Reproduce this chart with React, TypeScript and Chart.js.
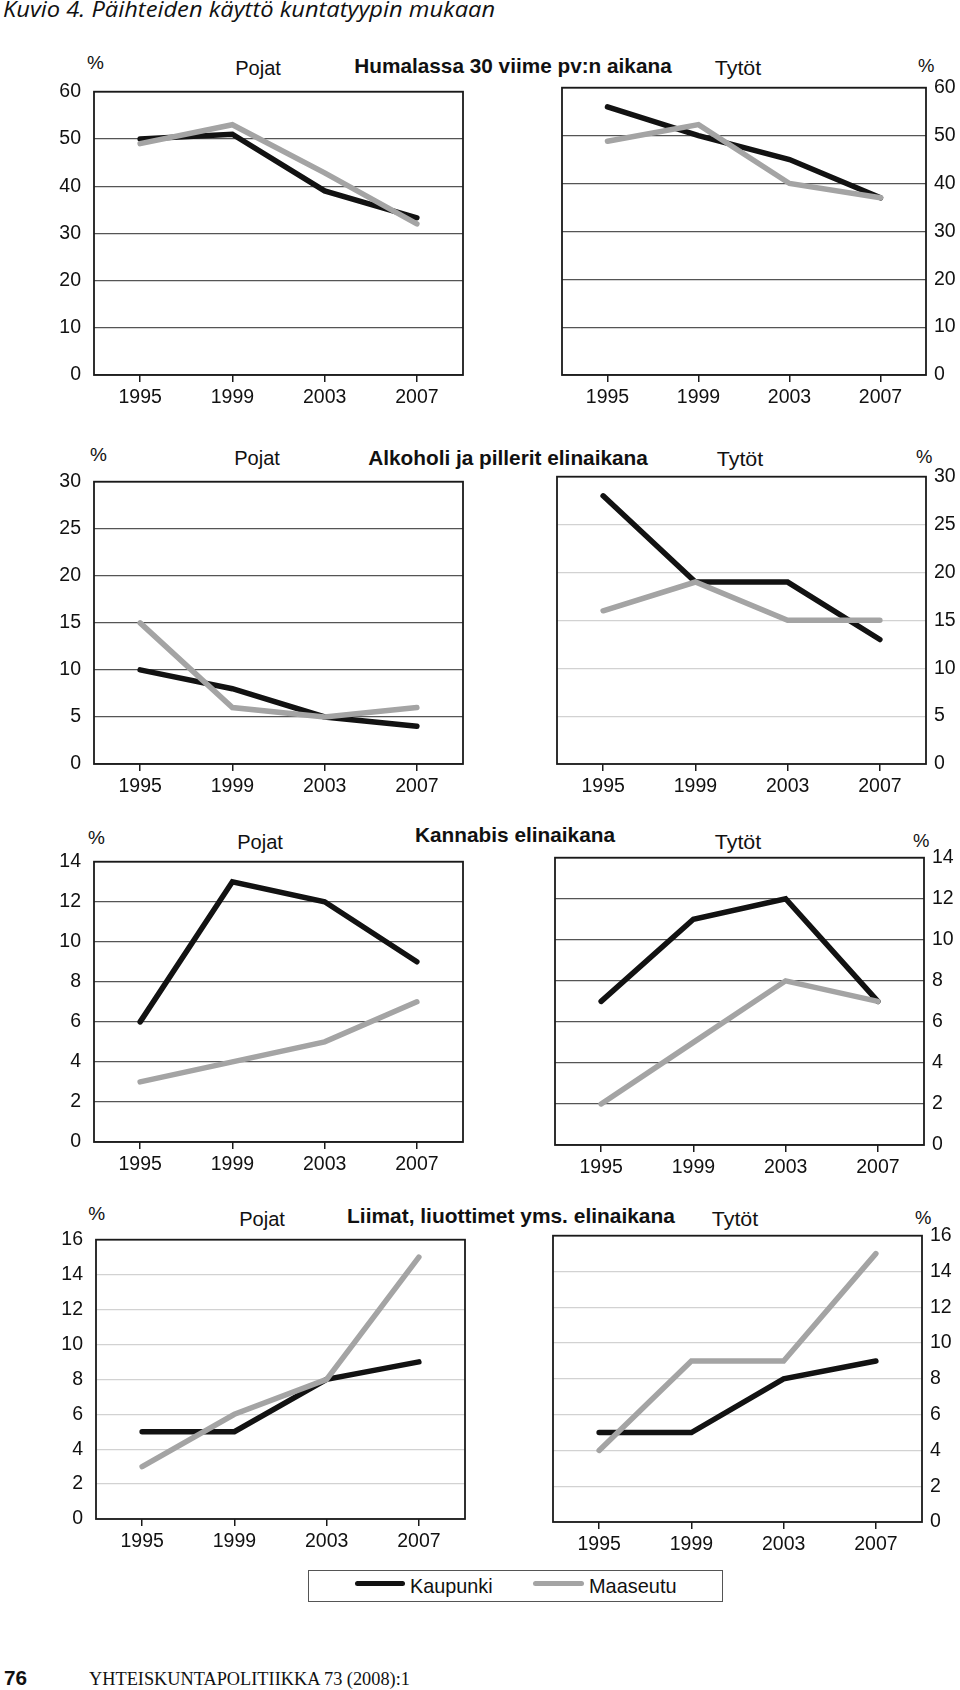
import React, { useEffect, useLayoutEffect, useRef, useState } from 'react';
import { Chart, registerables } from 'chart.js';

Chart.register(...registerables);

// ---------- data ----------
const years = ['1995', '1999', '2003', '2007'];
const seriesNames = ['Kaupunki', 'Maaseutu'];

const humalassaPojatKaupunki = [50, 51, 39, 33.3];
const humalassaPojatMaaseutu = [49, 53, 42.8, 32];
const humalassaTytotKaupunki = [56, 50, 45, 37];
const humalassaTytotMaaseutu = [48.8, 52.3, 40, 37];

const alkoholiPojatKaupunki = [10, 8, 5, 4];
const alkoholiPojatMaaseutu = [15, 6, 5, 6];
const alkoholiTytotKaupunki = [28, 19, 19, 13];
const alkoholiTytotMaaseutu = [16, 19, 15, 15];

const kannabisPojatKaupunki = [6, 13, 12, 9];
const kannabisPojatMaaseutu = [3, 4, 5, 7];
const kannabisTytotKaupunki = [7, 11, 12, 7];
const kannabisTytotMaaseutu = [2, 5, 8, 7];

const liimatPojatKaupunki = [5, 5, 8, 9];
const liimatPojatMaaseutu = [3, 6, 8, 15];
const liimatTytotKaupunki = [5, 5, 8, 9];
const liimatTytotMaaseutu = [4, 9, 9, 15];

const humalassaYTicks = [0, 10, 20, 30, 40, 50, 60];
const alkoholiYTicks = [0, 5, 10, 15, 20, 25, 30];
const kannabisYTicks = [0, 2, 4, 6, 8, 10, 12, 14];
const liimatYTicks = [0, 2, 4, 6, 8, 10, 12, 14, 16];

const pageTitle = 'Kuvio 4. Päihteiden käyttö kuntatyypin mukaan';
const sectionTitles = [
  'Humalassa 30 viime pv:n aikana',
  'Alkoholi ja pillerit elinaikana',
  'Kannabis elinaikana',
  'Liimat, liuottimet yms. elinaikana',
];
const groupNames = ['Pojat', 'Tytöt'];
const unitLabel = '%';
const footerPage = '76';
const footerText = 'YHTEISKUNTAPOLITIIKKA 73 (2008):1';

// ---------- styles / layout ----------
const SANS = '"Liberation Sans", Arial, Helvetica, sans-serif';
const SERIF = '"Liberation Serif", "Times New Roman", serif';
const ITALIC_SANS = '"Open Sans", "Noto Sans", sans-serif';
const BLACK = '#121212';
const GRAY = '#a4a4a4';
const DARK_GRID = '#555555';
const LIGHT_GRID = '#d2d2d2';

const AXW = 70; // forced y axis width
const EDGE = 6; // padding on the side without an axis
const PADT = 16;
const AXH = 45;

type PanelCfg = {
  kaupunki: number[];
  maaseutu: number[];
  yTicks: number[];
  side: 'left' | 'right';
  box: [number, number, number, number]; // left, right, top, bottom of plot area
  grid: string;
};

const panels: PanelCfg[] = [
  { kaupunki: humalassaPojatKaupunki, maaseutu: humalassaPojatMaaseutu, yTicks: humalassaYTicks, side: 'left', box: [94, 463, 83, 375], grid: DARK_GRID },
  { kaupunki: humalassaTytotKaupunki, maaseutu: humalassaTytotMaaseutu, yTicks: humalassaYTicks, side: 'right', box: [562, 926, 84, 375], grid: DARK_GRID },
  { kaupunki: alkoholiPojatKaupunki, maaseutu: alkoholiPojatMaaseutu, yTicks: alkoholiYTicks, side: 'left', box: [94, 463, 473, 764], grid: DARK_GRID },
  { kaupunki: alkoholiTytotKaupunki, maaseutu: alkoholiTytotMaaseutu, yTicks: alkoholiYTicks, side: 'right', box: [557, 926, 473, 764], grid: LIGHT_GRID },
  { kaupunki: kannabisPojatKaupunki, maaseutu: kannabisPojatMaaseutu, yTicks: kannabisYTicks, side: 'left', box: [94, 463, 853, 1142], grid: DARK_GRID },
  { kaupunki: kannabisTytotKaupunki, maaseutu: kannabisTytotMaaseutu, yTicks: kannabisYTicks, side: 'right', box: [555, 924, 854, 1145], grid: DARK_GRID },
  { kaupunki: liimatPojatKaupunki, maaseutu: liimatPojatMaaseutu, yTicks: liimatYTicks, side: 'left', box: [96, 465, 1231, 1519], grid: LIGHT_GRID },
  { kaupunki: liimatTytotKaupunki, maaseutu: liimatTytotMaaseutu, yTicks: liimatYTicks, side: 'right', box: [553, 922, 1232, 1522], grid: LIGHT_GRID },
];

// header rows: [%L x, %L baseline, Pojat cx, Pojat baseline, title cx, title baseline, title width, Tytöt cx, Tytöt baseline, %R x, %R baseline]
const headerRows = [
  [87, 69, 258, 75, 513, 73, 317, 738, 75, 918, 71.7],
  [90, 461, 257, 465.5, 508, 465, 280, 740, 466, 916, 462.7],
  [88, 844, 260, 849.3, 515, 842.7, 200, 738, 849.3, 913, 846.7],
  [88.3, 1220, 262, 1226, 510.5, 1223.3, 327.6, 734.5, 1226, 915, 1224],
];

const framePlugin = {
  id: 'frameBox',
  beforeDatasetsDraw(chart: any) {
    const { ctx, chartArea: a } = chart;
    ctx.save();
    ctx.strokeStyle = '#1a1a1a';
    ctx.lineWidth = 1.8;
    ctx.strokeRect(a.left, a.top, a.right - a.left, a.bottom - a.top);
    ctx.restore();
  },
};

function Panel({ p }: { p: PanelCfg }) {
  const ref = useRef<HTMLCanvasElement>(null);
  const [L, R, T, B] = p.box;
  const left = p.side === 'left' ? L - AXW : L - EDGE;
  const width = R - L + AXW + EDGE;
  const top = T - PADT;
  const height = B - T + PADT + AXH;

  useEffect(() => {
    const yt = p.yTicks;
    const chart = new Chart(ref.current as HTMLCanvasElement, {
      type: 'line',
      data: {
        labels: years,
        datasets: [
          {
            label: seriesNames[0],
            data: p.kaupunki,
            borderColor: BLACK,
            backgroundColor: BLACK,
            borderWidth: 5.5,
            pointRadius: 0,
            tension: 0,
            borderCapStyle: 'round',
            borderJoinStyle: 'miter',
            order: 1,
          },
          {
            label: seriesNames[1],
            data: p.maaseutu,
            borderColor: GRAY,
            backgroundColor: GRAY,
            borderWidth: 5.5,
            pointRadius: 0,
            tension: 0,
            borderCapStyle: 'round',
            borderJoinStyle: 'miter',
            order: 0,
          },
        ],
      },
      options: {
        animation: false,
        responsive: false,
        devicePixelRatio: 1,
        layout: {
          padding: {
            top: PADT,
            left: p.side === 'left' ? 0 : EDGE,
            right: p.side === 'left' ? EDGE : 0,
            bottom: 0,
          },
        },
        plugins: { legend: { display: false }, tooltip: { enabled: false }, title: { display: false } },
        scales: {
          x: {
            type: 'category',
            offset: true,
            border: { display: false },
            grid: {
              offset: false,
              drawOnChartArea: false,
              drawTicks: true,
              tickLength: 7,
              color: '#1a1a1a',
              lineWidth: 1.5,
            },
            ticks: {
              color: '#111',
              padding: 4,
              maxRotation: 0,
              font: { family: SANS, size: 19.5 },
            },
            afterFit: (s: any) => {
              s.height = AXH;
            },
          },
          y: {
            position: p.side,
            min: yt[0],
            max: yt[yt.length - 1],
            border: { display: false },
            grid: { color: p.grid, lineWidth: 1.2, drawTicks: false },
            ticks: {
              stepSize: yt[1] - yt[0],
              color: '#111',
              padding: p.side === 'left' ? 13 : 8,
              font: { family: SANS, size: 19.5 },
            },
            afterFit: (s: any) => {
              s.width = AXW;
            },
          },
        },
      } as any,
      plugins: [framePlugin],
    });
    return () => chart.destroy();
  }, []);

  return (
    <canvas
      ref={ref}
      width={width}
      height={height}
      style={{ position: 'absolute', left, top, width, height }}
    />
  );
}

type TxtProps = {
  x: number;
  y: number;
  text: string;
  size: number;
  weight?: number;
  family?: string;
  italic?: boolean;
  align?: 'left' | 'center';
  width?: number;
  base?: number;
};

function Txt({ x, y, text, size, weight = 400, family = SANS, italic = false, align = 'left', width, base = 0.85 }: TxtProps) {
  const ref = useRef<HTMLSpanElement>(null);
  const [sx, setSx] = useState(1);
  useLayoutEffect(() => {
    if (width && ref.current) {
      const w = ref.current.offsetWidth;
      if (w > 0) setSx(width / w);
    }
  }, [width, text]);
  const tx = align === 'center' ? 'translateX(-50%) ' : '';
  return (
    <span
      ref={ref}
      style={{
        position: 'absolute',
        left: x,
        top: y - size * base,
        fontSize: size,
        lineHeight: `${size}px`,
        fontFamily: family,
        fontWeight: weight,
        fontStyle: italic ? 'italic' : 'normal',
        whiteSpace: 'nowrap',
        color: '#111',
        transform: `${tx}scaleX(${sx})`,
        transformOrigin: align === 'center' ? 'center' : 'left',
      }}
    >
      {text}
    </span>
  );
}

export default function App() {
  return (
    <div
      style={{
        position: 'absolute',
        left: 0,
        top: 0,
        width: 960,
        height: 1690,
        background: '#fff',
        overflow: 'hidden',
      }}
    >
      <Txt x={3.3} y={17} text={pageTitle} size={22} family={ITALIC_SANS} italic width={492} base={0.89} />

      {headerRows.map((r, i) => (
        <React.Fragment key={i}>
          <Txt x={r[0]} y={r[1]} text={unitLabel} size={19} width={17} />
          <Txt x={r[2]} y={r[3]} text={groupNames[0]} size={20.5} align="center" width={46} />
          <Txt x={r[4]} y={r[5]} text={sectionTitles[i]} size={20.5} weight={700} align="center" width={r[6]} />
          <Txt x={r[7]} y={r[8]} text={groupNames[1]} size={20.5} align="center" width={46} />
          <Txt x={r[9]} y={r[10]} text={unitLabel} size={19} width={16.5} />
        </React.Fragment>
      ))}

      {panels.map((p, i) => (
        <Panel key={i} p={p} />
      ))}

      {/* legend */}
      <div
        style={{
          position: 'absolute',
          left: 308,
          top: 1570,
          width: 415,
          height: 32,
          boxSizing: 'border-box',
          border: '1.5px solid #555',
        }}
      />
      <div style={{ position: 'absolute', left: 355, top: 1580.7, width: 50, height: 5.3, borderRadius: 2.6, background: BLACK }} />
      <Txt x={410} y={1593.3} text={seriesNames[0]} size={21} width={83} />
      <div style={{ position: 'absolute', left: 533, top: 1580.7, width: 51, height: 5.3, borderRadius: 2.6, background: GRAY }} />
      <Txt x={589.3} y={1593.3} text={seriesNames[1]} size={21} width={87.3} />

      {/* footer */}
      <Txt x={4} y={1685} text={footerPage} size={21} weight={700} width={22.7} />
      <Txt x={89.3} y={1685} text={footerText} size={18} family={SERIF} width={321.4} base={0.84} />
    </div>
  );
}
